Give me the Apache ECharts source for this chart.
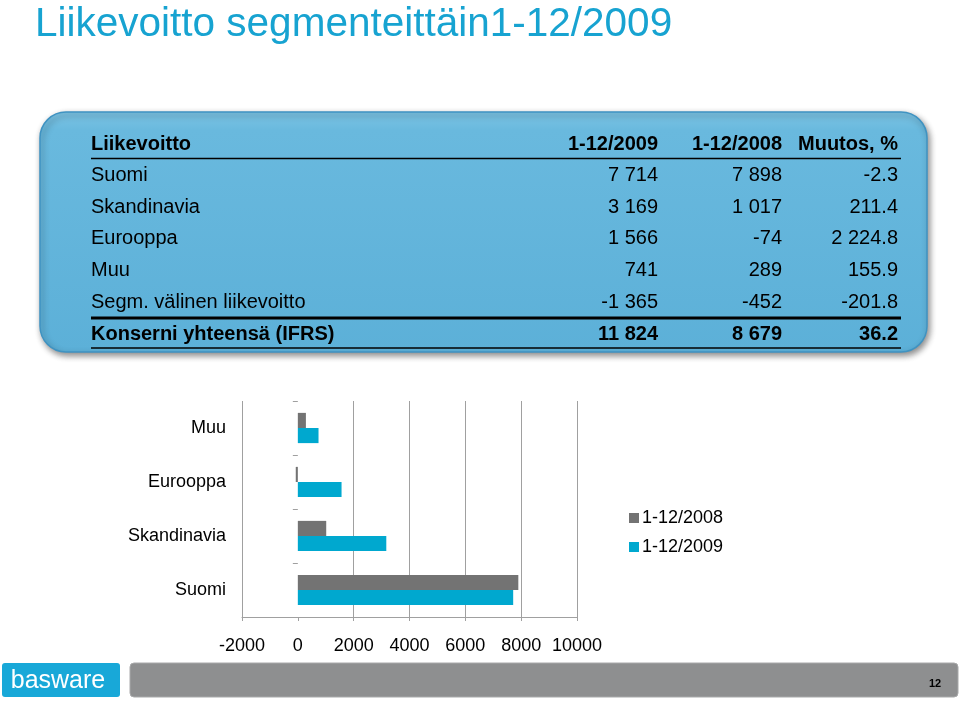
<!DOCTYPE html>
<html><head><meta charset="utf-8">
<script src="https://cdn.jsdelivr.net/npm/echarts@6/dist/echarts.min.js"></script>
<style>html,body{margin:0;padding:0;background:#fff}#c{width:960px;height:701px}</style>
</head><body><div id="c"></div>
<script>
// ---- data ----
const titleText = 'Liikevoitto segmenteittäin1-12/2009';
const categories = ['Suomi', 'Skandinavia', 'Eurooppa', 'Muu'];
const values2009 = [7714, 3169, 1566, 741];
const values2008 = [7898, 1017, -74, 289];
const seriesNames = ['1-12/2008', '1-12/2009'];
const xTicks = [-2000, 0, 2000, 4000, 6000, 8000, 10000];

const tableHeader = ['Liikevoitto', '1-12/2009', '1-12/2008', 'Muutos, %'];
const tableRowLabels = ['Suomi', 'Skandinavia', 'Eurooppa', 'Muu', 'Segm. välinen liikevoitto'];
const tableCol2009 = ['7 714', '3 169', '1 566', '741', '-1 365'];
const tableCol2008 = ['7 898', '1 017', '-74', '289', '-452'];
const tableColChange = ['-2.3', '211.4', '2 224.8', '155.9', '-201.8'];
const tableTotal = ['Konserni yhteensä (IFRS)', '11 824', '8 679', '36.2'];
const pageNumber = '12';

// ---- layout ----
const FONT = '"Liberation Sans", Arial, sans-serif';
const BLUE = '#00a8cf';
const GRAY = '#737373';
const colRight = [658, 782, 898];
const rowY0 = 144, rowStep = 31.6;

const g = [];
g.push({ type: 'text', left: 35, top: 4, style: { text: titleText, font: '40.5px ' + FONT, fill: '#17a3d1' } });

// table box
g.push({
  type: 'rect', shape: { x: 40, y: 112, width: 887, height: 240, r: 26 },
  style: {
    fill: { type: 'linear', x: 0, y: 0, x2: 0, y2: 1, colorStops: [{ offset: 0, color: '#7cc4e4' }, { offset: 0.08, color: '#69b9de' }, { offset: 1, color: '#5cb0d8' }] },
    stroke: '#3f93c2', lineWidth: 1.5, shadowBlur: 6, shadowOffsetX: 2, shadowOffsetY: 3, shadowColor: 'rgba(0,0,0,0.45)'
  }
});
function cell(text, x, y, align, bold) {
  g.push({ type: 'text', x: x, y: y, style: { text: text, font: (bold ? 'bold ' : '') + '20px ' + FONT, fill: '#000', align: align, verticalAlign: 'middle' } });
}
cell(tableHeader[0], 91, rowY0, 'left', true);
for (let c = 0; c < 3; c++) cell(tableHeader[c + 1], colRight[c], rowY0, 'right', true);
g.push({ type: 'line', shape: { x1: 91, y1: 158.5, x2: 901, y2: 158.5 }, style: { stroke: '#000', lineWidth: 1.5 } });
for (let r = 0; r < tableRowLabels.length; r++) {
  const y = rowY0 + rowStep * (r + 1);
  cell(tableRowLabels[r], 91, y, 'left', false);
  cell(tableCol2009[r], colRight[0], y, 'right', false);
  cell(tableCol2008[r], colRight[1], y, 'right', false);
  cell(tableColChange[r], colRight[2], y, 'right', false);
}
g.push({ type: 'line', shape: { x1: 91, y1: 318, x2: 901, y2: 318 }, style: { stroke: '#000', lineWidth: 3 } });
cell(tableTotal[0], 91, 334, 'left', true);
for (let c = 0; c < 3; c++) cell(tableTotal[c + 1], colRight[c], 334, 'right', true);
g.push({ type: 'line', shape: { x1: 91, y1: 348, x2: 901, y2: 348 }, style: { stroke: '#000', lineWidth: 1.5 } });

// footer
g.push({ type: 'rect', shape: { x: 2, y: 663, width: 118, height: 34, r: 3 }, style: { fill: '#18a8d8' } });
g.push({ type: 'text', x: 58, y: 681, style: { text: 'basware', font: '25px ' + FONT, fill: '#fff', align: 'center', verticalAlign: 'middle' } });
g.push({ type: 'rect', shape: { x: 130, y: 663, width: 828, height: 34, r: 4 }, style: { fill: '#8e8f90', stroke: '#a8a9aa', lineWidth: 1 } });
g.push({ type: 'text', x: 935, y: 684, style: { text: pageNumber, font: 'bold 11px ' + FONT, fill: '#000', align: 'center', verticalAlign: 'middle' } });

const chart = echarts.init(document.getElementById('c'), null, { renderer: 'canvas' });
chart.setOption({
  animation: false,
  backgroundColor: '#fff',
  textStyle: { fontFamily: FONT },
  grid: { left: 242, right: 960 - 577, top: 401, bottom: 701 - 617, containLabel: false },
  legend: {
    data: seriesNames, orient: 'vertical', left: 624, top: 504, itemWidth: 10, itemHeight: 10, itemGap: 11,
    icon: 'rect', textStyle: { fontSize: 18, color: '#000', fontFamily: FONT, padding: [0, 0, 0, -2] }
  },
  xAxis: {
    type: 'value', min: xTicks[0], max: xTicks[xTicks.length - 1], interval: 2000,
    axisLine: { show: true, onZero: false, lineStyle: { color: '#a0a0a0', width: 1 } },
    axisTick: { show: true, length: 4, lineStyle: { color: '#a0a0a0' } },
    axisLabel: { fontSize: 18, color: '#000', margin: 20, fontFamily: FONT, formatter: function (v) { return String(v); } },
    splitLine: { show: true, lineStyle: { color: ['#a0a0a0', 'rgba(0,0,0,0)', '#a0a0a0', '#a0a0a0', '#a0a0a0', '#a0a0a0', '#a0a0a0'], width: 1 } }
  },
  yAxis: [{
    type: 'category', data: categories, position: 'left',
    axisLine: { show: false, onZero: false }, axisTick: { show: false },
    axisLabel: { fontSize: 18, color: '#000', margin: 16, fontFamily: FONT }
  }, {
    type: 'category', data: categories, position: 'left',
    axisLine: { show: false, onZero: true }, axisTick: { show: true, length: 5, lineStyle: { color: '#a0a0a0' } },
    axisLabel: { show: false }
  }],
  series: [{
    name: seriesNames[0], type: 'bar', data: values2008, yAxisIndex: 0,
    itemStyle: { color: GRAY }, barCategoryGap: '44%', barGap: '0%'
  }, {
    name: seriesNames[1], type: 'bar', data: values2009, yAxisIndex: 0,
    itemStyle: { color: BLUE }, barCategoryGap: '44%', barGap: '0%'
  }],
  graphic: g
});
</script></body></html>
